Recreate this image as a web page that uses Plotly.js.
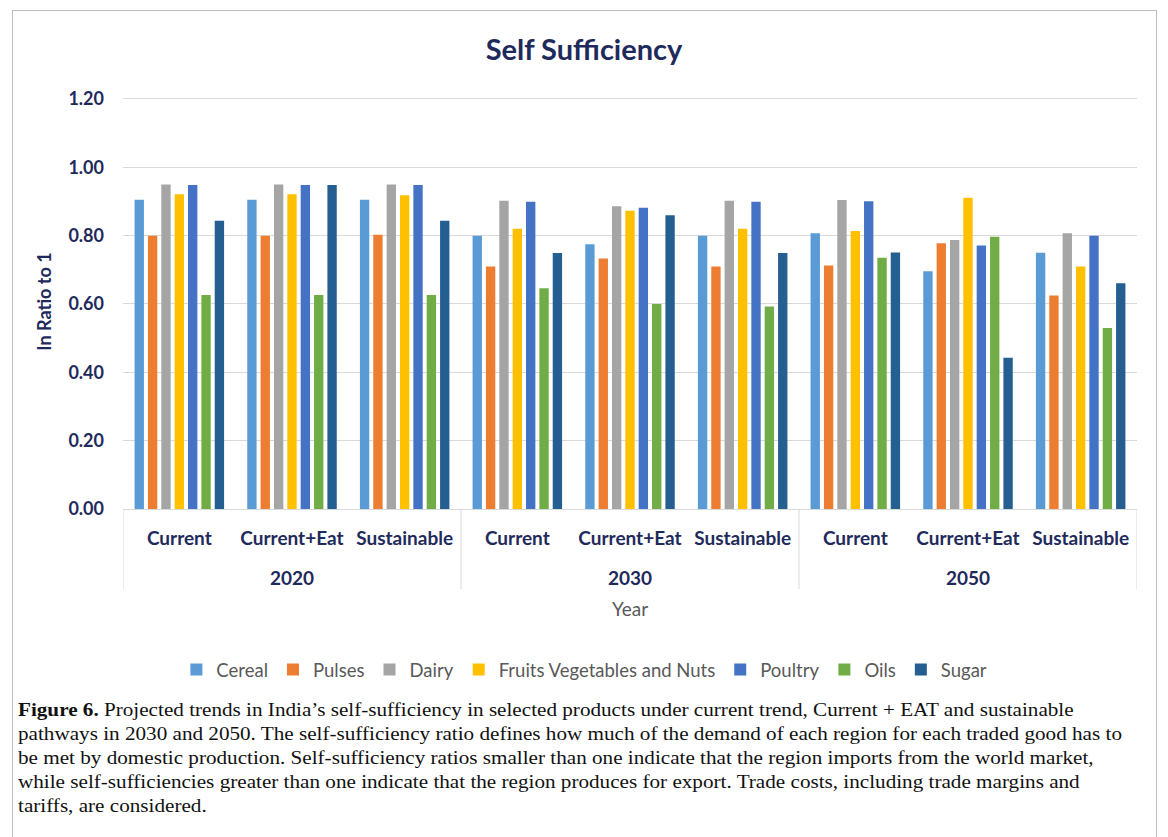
<!DOCTYPE html>
<html>
<head>
<meta charset="utf-8">
<script src="https://cdn.plot.ly/plotly-3.0.1.min.js"></script>
<style>
  html, body { margin: 0; padding: 0; background: #fff; }
  #wrap { position: relative; width: 1168px; height: 837px; overflow: hidden; }
  #chart { position: absolute; left: 0; top: 0; width: 1168px; height: 837px; }
  #frame { position: absolute; left: 12px; top: 10px; width: 1145px; height: 840px;
           border: 1px solid #bdbdbd; pointer-events: none; box-sizing: border-box; }
  #caption { position: absolute; left: 18px; top: 698px;
             font-family: "Liberation Serif", "DejaVu Serif", serif; font-size: 18px;
             line-height: 24px; color: #111; white-space: nowrap;
             transform: scaleX(1.175); transform-origin: 0 0; }
</style>
</head>
<body>
<div id="wrap">
  <div id="chart"></div>
  <div id="frame"></div>
  <div id="caption"><b>Figure 6.</b> Projected trends in India’s self-sufficiency in selected products under current trend, Current + EAT and sustainable<br>pathways in 2030 and 2050. The self-sufficiency ratio defines how much of the demand of each region for each traded good has to<br>be met by domestic production. Self-sufficiency ratios smaller than one indicate that the region imports from the world market,<br>while self-sufficiencies greater than one indicate that the region produces for export. Trade costs, including trade margins and<br>tariffs, are considered.</div>
</div>
<script>
// ---- data ----
const years     = ['2020','2020','2020','2030','2030','2030','2050','2050','2050'];
const scenarios = ['Current','Current+Eat','Sustainable','Current','Current+Eat','Sustainable','Current','Current+Eat','Sustainable'];
const seriesNames = ['Cereal','Pulses','Dairy','Fruits Vegetables and Nuts','Poultry','Oils','Sugar'];
const cereal  = [0.905, 0.905, 0.905, 0.800, 0.775, 0.800, 0.807, 0.696, 0.750];
const pulses  = [0.800, 0.800, 0.803, 0.710, 0.733, 0.710, 0.713, 0.778, 0.625];
const dairy   = [0.950, 0.950, 0.950, 0.902, 0.886, 0.902, 0.904, 0.787, 0.807];
const fruits  = [0.921, 0.921, 0.918, 0.820, 0.873, 0.820, 0.814, 0.911, 0.710];
const poultry = [0.948, 0.948, 0.948, 0.899, 0.882, 0.899, 0.901, 0.771, 0.800];
const oils    = [0.626, 0.626, 0.626, 0.646, 0.600, 0.593, 0.735, 0.797, 0.530];
const sugar   = [0.844, 0.948, 0.844, 0.749, 0.860, 0.749, 0.751, 0.443, 0.661];
const colors  = ['#5B9BD5','#ED7D31','#A5A5A5','#FFC000','#4472C4','#70AD47','#255E91'];

const allValues = [cereal, pulses, dairy, fruits, poultry, oils, sugar];
const navy = '#1F2A5C';
const FONT = 'Lato, "Open Sans", sans-serif';

// category positions (one slot per scenario/year pair)
const pos = scenarios.map((_, i) => i);

const traces = allValues.map((vals, i) => ({
  type: 'bar',
  name: seriesNames[i],
  x: pos,
  y: vals,
  marker: { color: colors[i] },
  hoverinfo: 'y+name'
}));

// plot area height (px) used to convert pixel offsets below the axis to paper units
const PLOT_H = 415;
const below = px => -px / PLOT_H;

// year group labels and dividers derived from the years array
const annotations = [];
const shapes = [];
const uniqueYears = [...new Set(years)];
uniqueYears.forEach(yr => {
  const idx = pos.filter(i => years[i] === yr);
  const center = idx.reduce((a, b) => a + b, 0) / idx.length;
  annotations.push({
    x: center, xref: 'x', y: below(68), yref: 'paper',
    text: yr, showarrow: false, xanchor: 'center', yanchor: 'middle',
    font: { family: FONT, size: 19, color: navy, weight: 'bold' }
  });
});
const boundaries = [-0.5];
for (let i = 1; i < years.length; i++) if (years[i] !== years[i - 1]) boundaries.push(i - 0.5);
boundaries.push(years.length - 0.5);
boundaries.forEach(b => shapes.push({
  type: 'line', xref: 'x', yref: 'paper', x0: b, x1: b, y0: 0, y1: below(80),
  line: { color: '#d9d9d9', width: 1 }
}));
// axis title "Year"
annotations.push({
  x: 0.5, xref: 'paper', y: below(99), yref: 'paper',
  text: 'Year', showarrow: false, xanchor: 'center', yanchor: 'middle',
  font: { family: FONT, size: 19, color: '#595959' }
});

const layout = {
  width: 1168, height: 837,
  margin: { l: 123, r: 31, t: 837 - 328 - PLOT_H, b: 328 },
  paper_bgcolor: 'rgba(0,0,0,0)',
  plot_bgcolor: '#fff',
  barmode: 'group',
  bargap: 0.17,
  bargroupgap: 0.3,
  title: {
    text: 'Self Sufficiency',
    x: 0.5, xanchor: 'center', xref: 'container',
    y: 1 - 50 / 837, yref: 'container', yanchor: 'middle',
    font: { family: FONT, size: 29, color: navy, weight: 'bold' }
  },
  xaxis: {
    type: 'linear',
    range: [-0.5, scenarios.length - 0.5],
    tickvals: pos, ticktext: scenarios,
    showline: true, linecolor: '#d9d9d9', linewidth: 1,
    showgrid: false, zeroline: false,
    ticks: '', ticklabelstandoff: 12,
    tickfont: { family: FONT, size: 19, color: navy, weight: 'bold' }
  },
  yaxis: {
    range: [0, 1.2146], dtick: 0.2, tick0: 0, tickformat: '.2f',
    gridcolor: '#d9d9d9', gridwidth: 1,
    zeroline: false, showline: false,
    ticks: '', ticklabelstandoff: 18,
    tickfont: { family: FONT, size: 18, color: navy, weight: 'bold' },
    title: { text: 'In Ratio to 1', standoff: 12,
             font: { family: FONT, size: 18, color: navy, weight: 'bold' } }
  },
  annotations: annotations,
  shapes: shapes,
  legend: {
    orientation: 'h',
    x: 0.455, xanchor: 'center',
    y: below(161), yanchor: 'middle',
    font: { family: FONT, size: 18.5, color: '#595959' },
    itemwidth: 30,
    traceorder: 'normal'
  },
  showlegend: true
};

Plotly.newPlot('chart', traces, layout, { displayModeBar: false, staticPlot: true });
</script>
</body>
</html>
